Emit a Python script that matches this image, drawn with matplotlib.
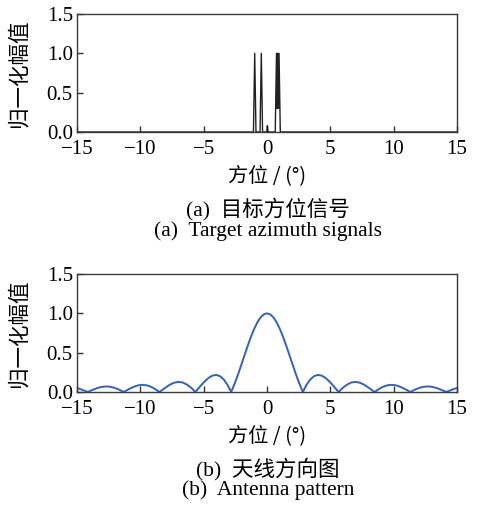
import numpy as np
import matplotlib
matplotlib.use("Agg")
import matplotlib.pyplot as plt

plt.rcParams['font.family'] = ['Liberation Serif', 'Noto Sans CJK SC']
plt.rcParams['axes.unicode_minus'] = True

# (a) target azimuth signals
sig_x = [-15, -1.07, -0.97, -0.87, -0.55, -0.45, -0.35, -0.02, 0.03, 0.08,
         0.65, 0.75, 0.8, 0.85, 0.9, 0.95, 1.05, 15]
sig_y = [0, 0, 1.0, 0, 0, 1.0, 0, 0, 0.08, 0,
         0, 1.0, 0.3, 1.0, 0.3, 1.0, 0, 0]

# (b) antenna pattern, x >= 0 half (curve is symmetric)
ant_x_half = [0, 0.25, 0.5, 0.75, 1.0, 1.25, 1.5, 1.75, 2.0, 2.25, 2.5, 2.83,
              3.1, 3.4, 3.7, 4.0, 4.3, 4.6, 4.9, 5.2, 5.45, 5.66,
              5.95, 6.3, 6.65, 7.0, 7.35, 7.7, 8.05, 8.3, 8.49,
              8.8, 9.15, 9.5, 9.85, 10.2, 10.55, 10.9, 11.15, 11.32,
              11.65, 12.0, 12.35, 12.7, 13.05, 13.4, 13.75, 14.0, 14.15,
              14.45, 14.75, 15.0]
ant_y_half = [1.0, 0.987, 0.950, 0.888, 0.807, 0.709, 0.598, 0.479, 0.359, 0.240, 0.129, 0.0,
              0.086, 0.156, 0.200, 0.217, 0.209, 0.181, 0.138, 0.086, 0.038, 0.0,
              0.049, 0.092, 0.121, 0.129, 0.117, 0.090, 0.052, 0.022, 0.0,
              0.034, 0.066, 0.085, 0.091, 0.084, 0.064, 0.037, 0.015, 0.0,
              0.028, 0.051, 0.066, 0.071, 0.065, 0.050, 0.028, 0.011, 0.0,
              0.020, 0.038, 0.049]
ant_x = [-v for v in ant_x_half[::-1]] + ant_x_half[1:]
ant_y = ant_y_half[::-1] + ant_y_half[1:]

xticks = [-15, -10, -5, 0, 5, 10, 15]
yticks = [0.0, 0.5, 1.0, 1.5]

W, H = 482, 505
fig = plt.figure(figsize=(W / 100, H / 100), dpi=100)

def make_ax(top_px):
    ax = fig.add_axes([77 / W, 1 - (top_px + 118) / H, 380 / W, 118 / H])
    ax.set_xlim(-15, 15)
    ax.set_ylim(0, 1.5)
    ax.set_xticks(xticks)
    ax.set_yticks(yticks)
    ax.set_xticklabels([str(t).replace('-', '\u2212') for t in xticks])
    ax.set_yticklabels(['%.1f' % t for t in yticks])
    ax.tick_params(direction='in', length=4, width=1, colors='#333333',
                   labelsize=15, labelcolor='black')
    ax.tick_params(axis='x', pad=6)
    ax.tick_params(axis='y', pad=3)
    for s in ax.spines.values():
        s.set_color('#3a3a3a')
        s.set_linewidth(1.0)
    ax.set_ylabel('归一化幅值', fontsize=15.5, labelpad=12,
                  family=['Noto Sans CJK SC'])
    ax.set_xlabel('方位 / (°)', fontsize=14.5, labelpad=4,
                  family=['Noto Sans CJK SC', 'Liberation Serif'])
    return ax

ax1 = make_ax(14)
ax1.plot(sig_x, sig_y, color='#222222', lw=1.0)

ax2 = make_ax(274)
ax2.plot(ant_x, ant_y, color='#3262bf', lw=1.4)

cx = 268 / W
fig.text(cx, 1 - 209 / H, '(a)  目标方位信号', ha='center', va='center', fontsize=15.5)
fig.text(cx, 1 - 231 / H, '(a)  Target azimuth signals', ha='center', va='center', fontsize=15.5)
fig.text(cx, 1 - 469 / H, '(b)  天线方向图', ha='center', va='center', fontsize=15.5)
fig.text(cx, 1 - 490 / H, '(b)  Antenna pattern', ha='center', va='center', fontsize=15.5)

fig.savefig('out.png', dpi=100)
